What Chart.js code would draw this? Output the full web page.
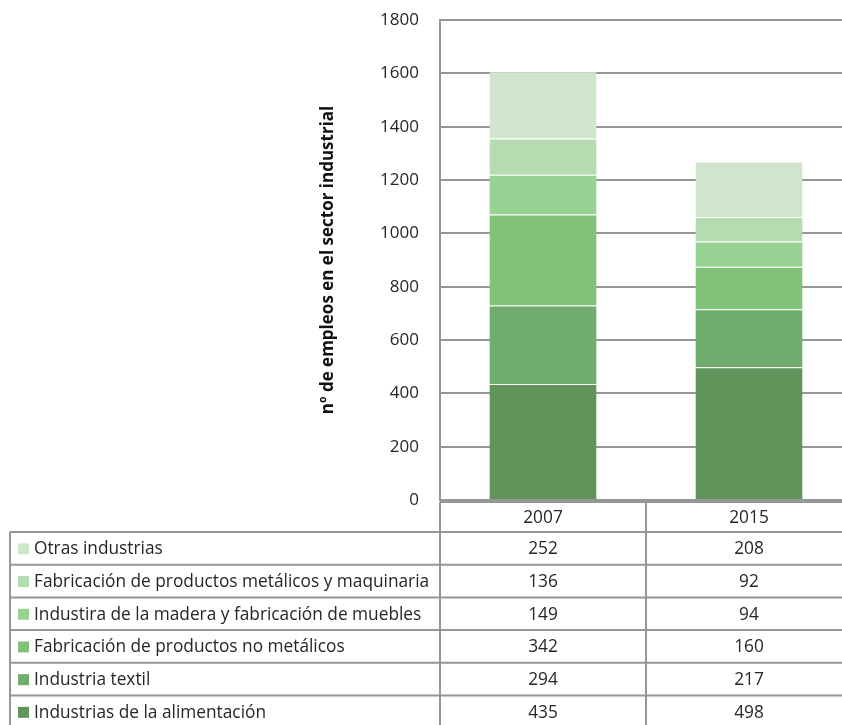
<!DOCTYPE html>
<html>
<head>
<meta charset="utf-8">
<script src="https://cdn.jsdelivr.net/npm/chart.js@4/dist/chart.umd.min.js"></script>
<style>
  html, body { margin: 0; padding: 0; background: #fff; overflow: hidden; }
  .wrap { width: 842px; height: 725px; overflow: hidden; }
</style>
</head>
<body>
<div class="wrap"><canvas id="chart" width="852" height="725"></canvas></div>
<script>
// categories and series (stack order: bottom first)
const years = ['2007', '2015']
const seriesNames = [
  'Industrias de la alimentación',
  'Industria textil',
  'Fabricación de productos no metálicos',
  'Industira de la madera y fabricación de muebles',
  'Fabricación de productos metálicos y maquinaria',
  'Otras industrias',
]
const alimentacion = [435, 498]
const textil = [294, 217]
const noMetalicos = [342, 160]
const madera = [149, 94]
const metalicos = [136, 92]
const otras = [252, 208]
const yTicks = [0, 200, 400, 600, 800, 1000, 1200, 1400, 1600, 1800]

const seriesValues = [alimentacion, textil, noMetalicos, madera, metalicos, otras]
const colors = ['#5f955a', '#70ac6b', '#80c27a', '#98d292', '#b4dcb0', '#cfe6cc']

const FONT = '"Open Sans", Lato, sans-serif'
const TEXT = '#262626'
const LINE = '#969696'

// data table under the plot, laid out from the x scale
const dataTable = {
  id: 'dataTable',
  afterDraw(chart) {
    const { ctx } = chart
    const x = chart.scales.x
    const top = chart.chartArea.bottom + 2
    const headH = 30
    const rowH = 32.7
    const left = 10
    const colW = (x.right - x.left) / years.length
    const nRows = seriesNames.length

    ctx.save()
    ctx.strokeStyle = LINE
    ctx.lineWidth = 2
    ctx.font = `17.3px ${FONT}`
    ctx.fillStyle = TEXT
    ctx.textBaseline = 'middle'

    ctx.beginPath()
    ctx.moveTo(x.left, top)
    ctx.lineTo(x.right, top)
    for (let i = 0; i <= years.length; i++) {
      const cx = x.left + i * colW
      ctx.moveTo(cx, top)
      ctx.lineTo(cx, top + headH + nRows * rowH)
    }
    ctx.moveTo(left, top + headH)
    ctx.lineTo(left, top + headH + nRows * rowH)
    for (let r = 0; r <= nRows; r++) {
      const y = top + headH + r * rowH
      ctx.moveTo(left, y)
      ctx.lineTo(x.right, y)
    }
    ctx.stroke()

    ctx.textAlign = 'center'
    years.forEach((yr, i) => {
      ctx.fillText(yr, x.getPixelForValue(i), top + headH / 2 + 1)
    })

    // rows top to bottom = reverse of stack order
    for (let r = 0; r < nRows; r++) {
      const si = nRows - 1 - r
      const cy = top + headH + r * rowH + rowH / 2 + 1
      ctx.fillStyle = colors[si]
      ctx.fillRect(18, cy - 6, 11, 11)
      ctx.fillStyle = TEXT
      ctx.textAlign = 'left'
      ctx.fillText(seriesNames[si], 34, cy)
      ctx.textAlign = 'center'
      seriesValues[si].forEach((v, i) => {
        ctx.fillText(String(v), x.getPixelForValue(i), cy)
      })
    }
    ctx.restore()
  },
}

new Chart(document.getElementById('chart'), {
  type: 'bar',
  data: {
    labels: years,
    datasets: seriesNames.map((name, i) => ({
      label: name,
      data: seriesValues[i],
      backgroundColor: colors[i],
      borderColor: 'rgba(255,255,255,0.2)',
      borderWidth: { top: 1 },
      borderSkipped: false,
      barPercentage: 0.52,
      categoryPercentage: 1,
    })),
  },
  options: {
    responsive: false,
    animation: false,
    layout: { padding: { left: 318, top: 20, right: 0, bottom: 217 } },
    plugins: {
      legend: { display: false },
      tooltip: { enabled: false },
    },
    scales: {
      x: {
        stacked: true,
        offset: true,
        grid: { display: false },
        border: { color: LINE, width: 2 },
        ticks: { display: false },
      },
      y: {
        stacked: true,
        min: 0,
        max: 1800,
        afterBuildTicks: (scale) => {
          scale.ticks = yTicks.map((v) => ({ value: v }))
        },
        afterFit: (scale) => {
          scale.width = 122
          scale.paddingTop = 0
          scale.paddingBottom = 0
        },
        grid: { color: LINE, lineWidth: 2, drawTicks: false },
        border: { color: LINE, width: 2 },
        ticks: {
          color: TEXT,
          padding: 21,
          font: { family: FONT, size: 17 },
          callback: (v) => String(v),
        },
        title: {
          display: true,
          text: 'nº de empleos en el sector industrial',
          color: '#111',
          font: { family: FONT, size: 17, weight: 'bold' },
          padding: 0,
        },
      },
    },
  },
  plugins: [dataTable],
})
</script>
</body>
</html>
